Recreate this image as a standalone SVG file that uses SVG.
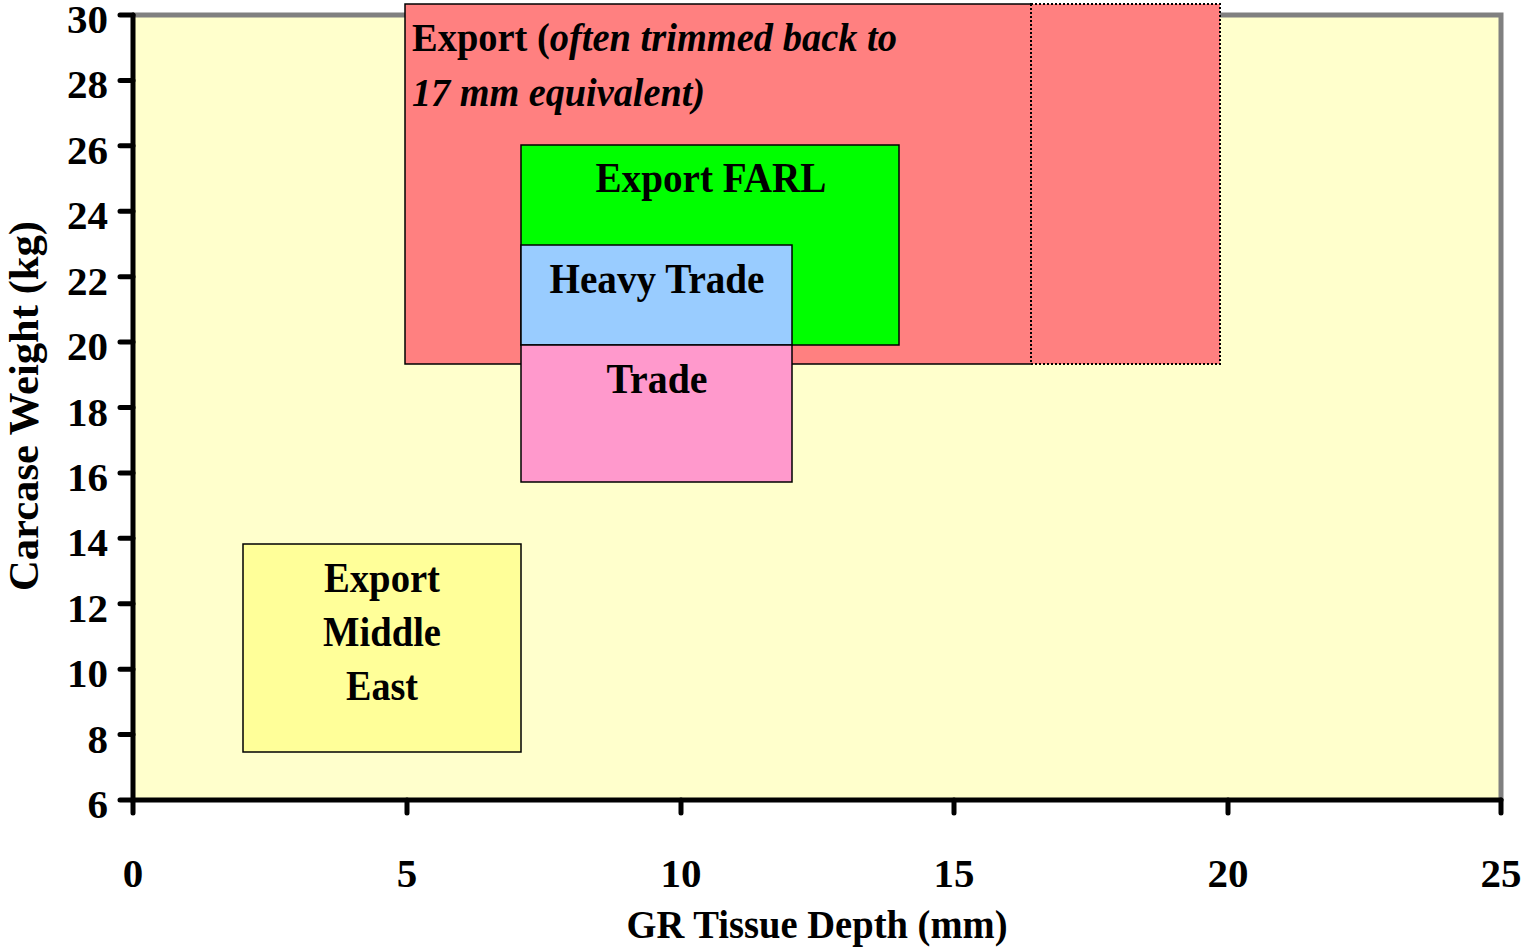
<svg xmlns="http://www.w3.org/2000/svg" width="1523" height="951" viewBox="0 0 1523 951">
<style>
text { font-family: "Liberation Serif", "Times New Roman", serif; font-weight: bold; fill: #000; }
.tick { font-size: 41px; }
.lbl { font-size: 42px; }
.box { stroke: #000; stroke-width: 1.5; }
.ax { stroke: #000; stroke-width: 5; stroke-linecap: round; fill: none; }
.frame { stroke: #808080; stroke-width: 5; fill: none; }
</style>
<rect x="0" y="0" width="1523" height="951" fill="#ffffff"/>
<g id="plot-area">
  <rect x="133" y="15" width="1368" height="785" fill="#FFFFCC"/>
  <path class="frame" d="M133,15 H1501 V800"/>
</g>
<g id="export">
  <rect x="405" y="4" width="815" height="360" fill="#FF8080"/>
  <path d="M1031,4 H405 V364 H1031" fill="none" stroke="#000" stroke-width="1.5"/>
  <path d="M1031,4 H1220 V364 H1031 Z" fill="none" stroke="#000" stroke-width="2" stroke-dasharray="2,2"/>
  <text class="lbl" x="412" y="51" font-size="39" style="font-size:39px" textLength="485" lengthAdjust="spacingAndGlyphs">Export (<tspan font-style="italic">often trimmed back to</tspan></text>
  <text class="lbl" x="412" y="106" style="font-size:39px;font-style:italic" textLength="293" lengthAdjust="spacingAndGlyphs">17 mm equivalent)</text>
</g>
<g id="export-farl">
  <rect class="box" x="521" y="145" width="378" height="200" fill="#00FF00"/>
  <text class="lbl" x="711" y="192" text-anchor="middle" textLength="231" lengthAdjust="spacingAndGlyphs">Export FARL</text>
</g>
<g id="heavy-trade">
  <rect class="box" x="521" y="245" width="271" height="100" fill="#99CCFF"/>
  <text class="lbl" x="657" y="293" text-anchor="middle" textLength="215" lengthAdjust="spacingAndGlyphs">Heavy Trade</text>
</g>
<g id="trade">
  <rect class="box" x="521" y="345" width="271" height="137" fill="#FF99CC"/>
  <text class="lbl" x="657" y="393" text-anchor="middle" textLength="101" lengthAdjust="spacingAndGlyphs">Trade</text>
</g>
<g id="export-middle-east">
  <rect class="box" x="243" y="544" width="278" height="208" fill="#FFFF99"/>
  <text class="lbl" x="382" y="592" text-anchor="middle" textLength="116" lengthAdjust="spacingAndGlyphs">Export</text>
  <text class="lbl" x="382" y="646" text-anchor="middle" textLength="118" lengthAdjust="spacingAndGlyphs">Middle</text>
  <text class="lbl" x="382" y="700" text-anchor="middle" textLength="72" lengthAdjust="spacingAndGlyphs">East</text>
</g>
<g id="axes">
  <path class="ax" d="M133,15 V800 H1501"/>
  <path class="ax" d="M120,15 H133 M120,80.4 H133 M120,145.8 H133 M120,211.3 H133 M120,276.7 H133 M120,342.1 H133 M120,407.5 H133 M120,472.9 H133 M120,538.3 H133 M120,603.8 H133 M120,669.2 H133 M120,734.6 H133 M120,800 H133"/>
  <path class="ax" d="M133,800 V813 M407,800 V813 M681,800 V813 M954,800 V813 M1228,800 V813 M1501,800 V813"/>
  <g class="tick" text-anchor="end">
    <text x="108" y="33">30</text>
    <text x="108" y="98.4">28</text>
    <text x="108" y="163.8">26</text>
    <text x="108" y="229.3">24</text>
    <text x="108" y="294.7">22</text>
    <text x="108" y="360.1">20</text>
    <text x="108" y="425.5">18</text>
    <text x="108" y="490.9">16</text>
    <text x="108" y="556.3">14</text>
    <text x="108" y="621.8">12</text>
    <text x="108" y="687.2">10</text>
    <text x="108" y="752.6">8</text>
    <text x="108" y="818">6</text>
  </g>
  <g class="tick" text-anchor="middle">
    <text x="133" y="887">0</text>
    <text x="407" y="887">5</text>
    <text x="681" y="887">10</text>
    <text x="954" y="887">15</text>
    <text x="1228" y="887">20</text>
    <text x="1501" y="887">25</text>
  </g>
  <text x="817" y="938" text-anchor="middle" style="font-size:41px" textLength="381" lengthAdjust="spacingAndGlyphs">GR Tissue Depth (mm)</text>
  <text transform="translate(38,406) rotate(-90)" text-anchor="middle" style="font-size:43px" textLength="370" lengthAdjust="spacingAndGlyphs">Carcase Weight (kg)</text>
</g>
</svg>
